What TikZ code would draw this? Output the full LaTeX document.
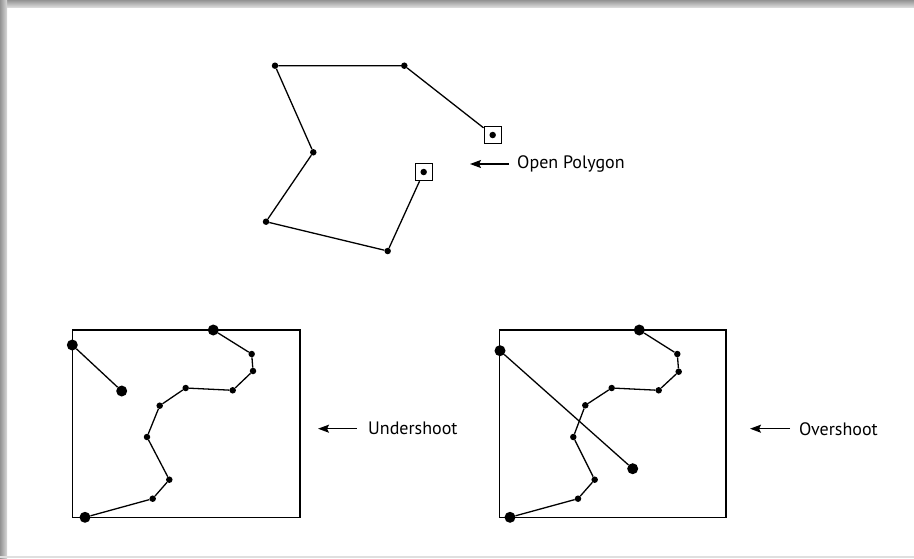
\documentclass[tikz,border=0pt]{standalone}
\usepackage{fontspec}
\setmainfont{PT Sans}
\usetikzlibrary{arrows.meta}
\begin{document}
\begin{tikzpicture}[x=1pt,y=-1pt,
  dot/.style={circle,fill=black,inner sep=0pt,minimum size=6.5pt},
  bigdot/.style={circle,fill=black,inner sep=0pt,minimum size=11pt},
  endbox/.style={draw=black,line width=1.3pt,inner sep=0pt,minimum size=17pt},
  edge/.style={line width=1.3pt,black},
  frame/.style={draw=black,line width=1.3pt},
  pointer/.style={line width=1.5pt,-{Stealth[length=11pt,width=8pt,inset=2pt]}},
  lbl/.style={font=\fontsize{18}{20}\selectfont,anchor=west,inner sep=0pt}]
\useasboundingbox (0,0) rectangle (914,558);
\fill[white] (0,0) rectangle (914,558);
% frame shadow
\shade[top color=gray!85,bottom color=gray!30] (0,0) rectangle (914,7);
\shade[left color=gray!85,right color=gray!30] (0,0) rectangle (7,558);
\fill[gray!25] (0,556) rectangle (914,558);
% open polygon
\node[endbox] (q3) at (492.7,135) {};
\node[dot] (p3) at (492.7,135) {};
\node[dot] (p2) at (404.3,65.7) {};
\node[dot] (p1) at (275,65.7) {};
\node[dot] (p4) at (313.3,152.3) {};
\node[dot] (p5) at (266,221.7) {};
\node[dot] (p6) at (387.7,251) {};
\node[endbox] (q7) at (423.7,172) {};
\node[dot] (p7) at (423.7,172) {};
\draw[edge] (q3) -- (p2) -- (p1) -- (p4) -- (p5) -- (p6) -- (q7);
\coordinate (oa) at (509,164);
\coordinate (ob) at (470,164);
\draw[pointer] (oa) -- (ob);
\node[lbl] (ot) at (517,164) {Open Polygon};
% undershoot
\draw[frame] (72.7,330) rectangle (300,517.3);
\node[bigdot] (ua) at (72.3,345) {};
\node[bigdot] (ub) at (121.7,391) {};
\node[bigdot] (uc) at (213.3,330) {};
\node[dot] (ud) at (251.7,354) {};
\node[dot] (ue) at (253,371) {};
\node[dot] (uf) at (232.7,390.3) {};
\node[dot] (ug) at (185.7,388) {};
\node[dot] (uh) at (159.7,405.7) {};
\node[dot] (ui) at (147,437) {};
\node[dot] (uj) at (169.3,479.7) {};
\node[dot] (uk) at (152.7,498.7) {};
\node[bigdot] (ul) at (85,517.3) {};
\draw[edge] (ua) -- (ub);
\draw[edge] (uc) -- (ud) -- (ue) -- (uf) -- (ug) -- (uh) -- (ui) -- (uj) -- (uk) -- (ul);
\coordinate (ua1) at (356.7,428.7);
\coordinate (ua2) at (318,428.7);
\draw[pointer] (ua1) -- (ua2);
\node[lbl] (ut) at (368,428.7) {Undershoot};
% overshoot
\draw[frame] (499.3,330) rectangle (726,517.3);
\node[bigdot] (va) at (500,350.7) {};
\node[bigdot] (vb) at (632.7,468.7) {};
\node[bigdot] (vc) at (639.3,330) {};
\node[dot] (vd) at (677.3,354) {};
\node[dot] (ve) at (678.7,371.7) {};
\node[dot] (vf) at (658.7,390.3) {};
\node[dot] (vg) at (611.7,388) {};
\node[dot] (vh) at (585.3,405.3) {};
\node[dot] (vi) at (573.3,437) {};
\node[dot] (vj) at (594.7,479.7) {};
\node[dot] (vk) at (578,498.7) {};
\node[bigdot] (vl) at (510,517.3) {};
\draw[edge] (va) -- (vb);
\draw[edge] (vc) -- (vd) -- (ve) -- (vf) -- (vg) -- (vh) -- (vi) -- (vj) -- (vk) -- (vl);
\coordinate (va1) at (790,428.7);
\coordinate (va2) at (750,428.7);
\draw[pointer] (va1) -- (va2);
\node[lbl] (vt) at (799,428.7) {Overshoot};
\end{tikzpicture}
\end{document}
